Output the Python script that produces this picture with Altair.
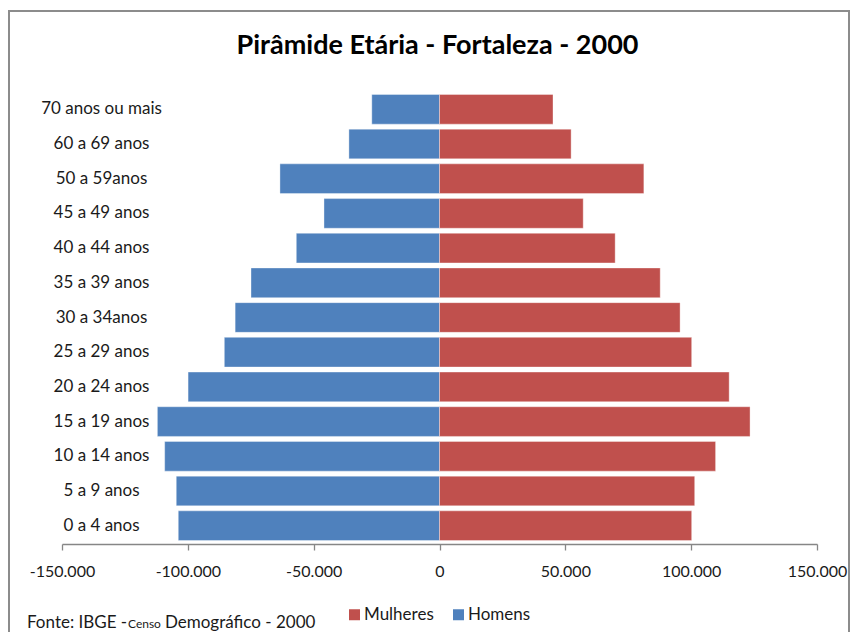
import altair as alt
import pandas as pd

titulo = "Pirâmide Etária - Fortaleza - 2000"
faixas = ["70 anos ou mais", "60 a 69 anos", "50 a 59anos", "45 a 49 anos",
          "40 a 44 anos", "35 a 39 anos", "30 a 34anos", "25 a 29 anos",
          "20 a 24 anos", "15 a 19 anos", "10 a 14 anos", "5 a 9 anos", "0 a 4 anos"]
homens = [26900, 36000, 63400, 45900, 56900, 74900, 81200, 85500,
          99900, 112100, 109200, 104600, 103800]
mulheres = [45100, 52300, 81200, 57100, 69800, 87700, 95600, 100200,
            115100, 123400, 109700, 101400, 100200]
series = ["Mulheres", "Homens"]
cores = ["#C0504D", "#4F81BD"]
ticks = [-150000, -100000, -50000, 0, 50000, 100000, 150000]

rows = []
for f, h, m in zip(faixas, homens, mulheres):
    rows.append({"faixa": f, "sexo": "Homens", "valor": -h})
    rows.append({"faixa": f, "sexo": "Mulheres", "valor": m})
df = pd.DataFrame(rows)
labels_df = pd.DataFrame({"faixa": faixas})
one_df = pd.DataFrame({"v": [0]})

FONT = "Lato"
W, H = 755, 453

yscale = alt.Scale(domain=faixas, paddingInner=0.145, paddingOuter=0.1)

bars = alt.Chart(df).mark_bar(stroke="#ffffff", strokeWidth=0.6, strokeOpacity=0.6).encode(
    x=alt.X("valor:Q", title=None,
            scale=alt.Scale(domain=[-150000, 150000], nice=False, zero=False),
            axis=alt.Axis(values=ticks, grid=False, labelFlush=False,
                          labelExpr="(datum.value < 0 ? '-' : '') + replace(format(abs(datum.value), ','), /,/g, '.')",
                          labelFontSize=16, labelFont=FONT, labelColor="#1a1a1a",
                          labelPadding=13, tickSize=6, tickColor="#868686",
                          domainColor="#868686", domainWidth=1.3, tickWidth=1.3)),
    y=alt.Y("faixa:N", sort=faixas, scale=yscale, title=None,
            axis=alt.Axis(orient="left", position=W / 2, labels=False, ticks=True,
                          tickBand="extent", tickSize=5, tickColor="#a0a0a0",
                          tickWidth=1, domainColor="#868686", domainWidth=1.3,
                          grid=False, zindex=1)),
    color=alt.Color("sexo:N", scale=alt.Scale(domain=series, range=cores),
                    legend=alt.Legend(title=None, orient="none", direction="horizontal",
                                      legendX=284, legendY=515, symbolType="square",
                                      symbolSize=121, symbolStrokeWidth=0,
                                      labelFontSize=17, labelFont=FONT,
                                      labelColor="#1a1a1a", columnPadding=16,
                                      labelOffset=1))
)

ylabels = alt.Chart(labels_df).mark_text(
    align="center", baseline="middle", fontSize=17, font=FONT, color="#1a1a1a"
).encode(
    x=alt.value(39.5),
    y=alt.Y("faixa:N", sort=faixas, scale=yscale, axis=None),
    text="faixa:N"
)

title_mark = alt.Chart(one_df).mark_text(align="center", baseline="alphabetic",
                                         fontSize=27, font=FONT, fontWeight="bold",
                                         color="#000000").encode(
    x=alt.value(W / 2 - 2), y=alt.value(-37), text=alt.value(titulo))

fonte1 = alt.Chart(one_df).mark_text(align="left", baseline="alphabetic", fontSize=17,
                                     font=FONT, color="#1a1a1a").encode(
    x=alt.value(-35), y=alt.value(537), text=alt.value("Fonte: IBGE -"))
fonte2 = alt.Chart(one_df).mark_text(align="left", baseline="alphabetic", fontSize=12,
                                     font=FONT, color="#1a1a1a").encode(
    x=alt.value(66), y=alt.value(537), text=alt.value("Censo"))
fonte3 = alt.Chart(one_df).mark_text(align="left", baseline="alphabetic", fontSize=17,
                                     font=FONT, color="#1a1a1a").encode(
    x=alt.value(103), y=alt.value(537), text=alt.value("Demográfico - 2000"))

frame = alt.Chart(one_df).mark_rect(fill=None, stroke="#8c8c8c", strokeWidth=2,
                                    clip=False).encode(
    x=alt.value(-53), x2=alt.value(787), y=alt.value(-80), y2=alt.value(600))

chart = alt.layer(frame, bars, ylabels, title_mark, fonte1, fonte2, fonte3).properties(
    width=W, height=H, background="white",
    autosize=alt.AutoSizeParams(type="none"),
    padding={"left": 54, "top": 83, "right": 34, "bottom": 88},
).configure_view(strokeWidth=0)

chart.save("out.html", embed_options={"renderer": "svg", "actions": False})
